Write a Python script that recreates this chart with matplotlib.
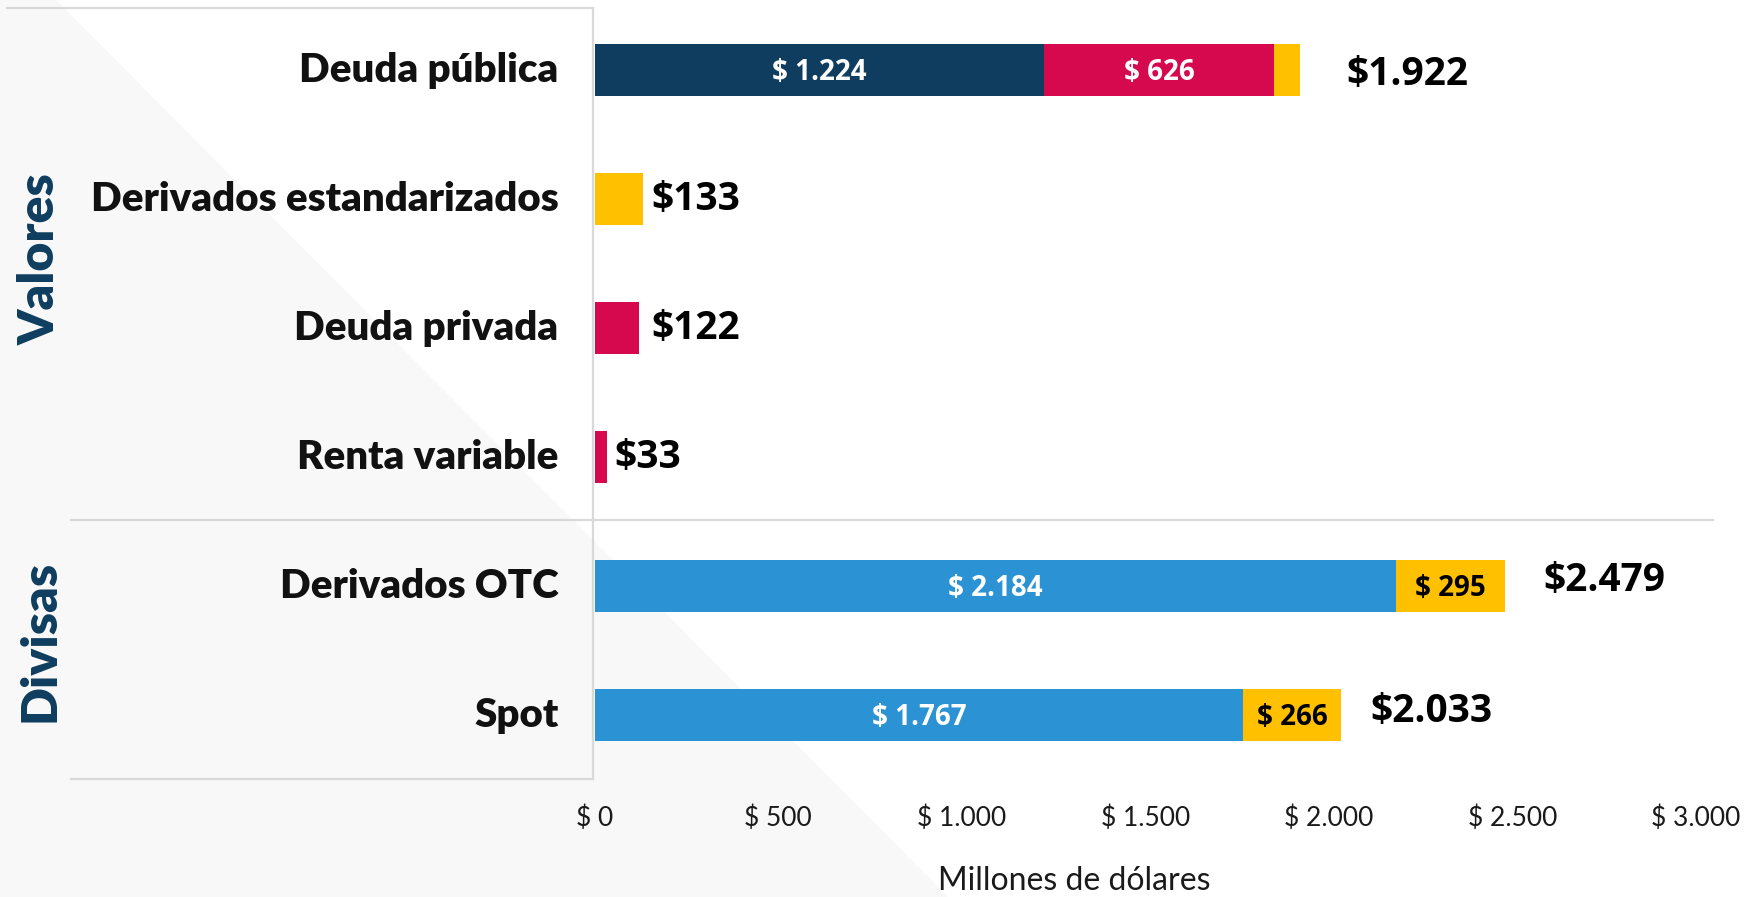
import matplotlib
matplotlib.use("Agg")
import matplotlib.pyplot as plt
from matplotlib.patches import Polygon
from matplotlib.lines import Line2D

# ---- data ----
categories = ["Deuda pública", "Derivados estandarizados", "Deuda privada",
              "Renta variable", "Derivados OTC", "Spot"]
navy_vals = [1224, 0, 0, 0, 0, 0]
crimson_vals = [626, 0, 122, 33, 0, 0]
blue_vals = [0, 0, 0, 0, 2184, 1767]
yellow_vals = [72, 133, 0, 0, 295, 266]
totals = [1922, 133, 122, 33, 2479, 2033]
total_labels = ["$1.922", "$133", "$122", "$33", "$2.479", "$2.033"]
xticks = [0, 500, 1000, 1500, 2000, 2500, 3000]
xtick_labels = ["$ 0", "$ 500", "$ 1.000", "$ 1.500", "$ 2.000", "$ 2.500", "$ 3.000"]
groups = ["Valores", "Divisas"]

# ---- style ----
NAVY = "#0f3d5f"
CRIMSON = "#d6094f"
YELLOW = "#ffc000"
BLUE = "#2b93d3"
W, H = 1749, 897
DPI = 100

fig = plt.figure(figsize=(W / DPI, H / DPI), dpi=DPI)
fig.patch.set_facecolor("white")

def fx(px):
    return px / W

def fy(py):
    return 1 - py / H

# diagonal grey background
bg = Polygon([(0, 1), (fx(56), 1), (fx(948), 0), (0, 0)], closed=True,
             transform=fig.transFigure, facecolor="#f8f8f8", edgecolor="none", zorder=-5)
fig.patches.append(bg)

# panel lines
lc = "#d9d9d9"
for (x0, y0, x1, y1) in [(7, 8, 593, 8), (593, 8, 593, 779), (71, 520, 1713, 520), (71, 779, 593, 779)]:
    fig.lines.append(Line2D([fx(x0), fx(x1)], [fy(y0), fy(y1)], transform=fig.transFigure,
                            color=lc, linewidth=1.6, zorder=-4))

# axes: x 0 at 594.6px, 3000 at 1696px; row0 at 70px, spacing 129px
left_px, right_px = 594.6, 1696.0
top_px, bot_px = 70 - 0.5 * 129, 70 + 5.5 * 129
ax = fig.add_axes([fx(left_px), fy(bot_px), fx(right_px - left_px), (bot_px - top_px) / H])
ax.set_zorder(2)
ax.set_facecolor("none")
ax.set_xlim(0, 3000)
ax.set_ylim(5.5, -0.5)

y = list(range(len(categories)))
bh = 0.40
left = [0] * len(y)
for vals, col in [(navy_vals, NAVY), (crimson_vals, CRIMSON), (blue_vals, BLUE), (yellow_vals, YELLOW)]:
    bars = ax.barh(y, vals, left=left, height=bh, color=col, edgecolor="none", zorder=3)
    for b, v, l in zip(bars, vals, left):
        if v >= 250:
            tc = "black" if col == YELLOW else "white"
            ax.text(l + v / 2, b.get_y() + b.get_height() / 2 + 0.02, f"$ {v:,}".replace(",", "."),
                    ha="center", va="center", color=tc, fontsize=20, fontweight="bold",
                    family="Open Sans", zorder=4)
    left = [a + b for a, b in zip(left, vals)]

# totals
offsets_px = [46, 8, 12, 8, 39, 29]
dy_px = [-4, 0, 0, 0, 6, 4]
for i, (t, lab) in enumerate(zip(totals, total_labels)):
    ax.annotate(lab, xy=(t, i), xytext=(offsets_px[i], dy_px[i]), textcoords="offset pixels",
                ha="left", va="center", fontsize=28, fontweight="bold",
                family="Open Sans", color="black", zorder=4)

# axes styling
for s in ax.spines.values():
    s.set_visible(False)
ax.set_yticks([])
ax.set_xticks(xticks)
ax.set_xticklabels(xtick_labels, family="Lato", fontsize=19, color="#1a1a1a")
ax.tick_params(axis="x", length=0, pad=19)

# category labels
for i, c in enumerate(categories):
    ax.text(-36 / 0.367, i, c, ha="right", va="center", fontsize=29, fontweight="heavy",
            family="Lato", color="#111111", zorder=4)

# group labels
fig.text(fx(40), fy(259), groups[0], rotation=90, ha="center", va="center",
         fontsize=36, fontweight="heavy", family="Lato", color=NAVY)
fig.text(fx(40), fy(641), groups[1], rotation=90, ha="center", va="center",
         fontsize=36, fontweight="heavy", family="Lato", color=NAVY)

fig.text(fx(1074), fy(881), "Millones de dólares", ha="center", va="center",
         family="Lato", fontsize=23, color="#1a1a1a")

fig.savefig("out.png", dpi=DPI, facecolor="white")
